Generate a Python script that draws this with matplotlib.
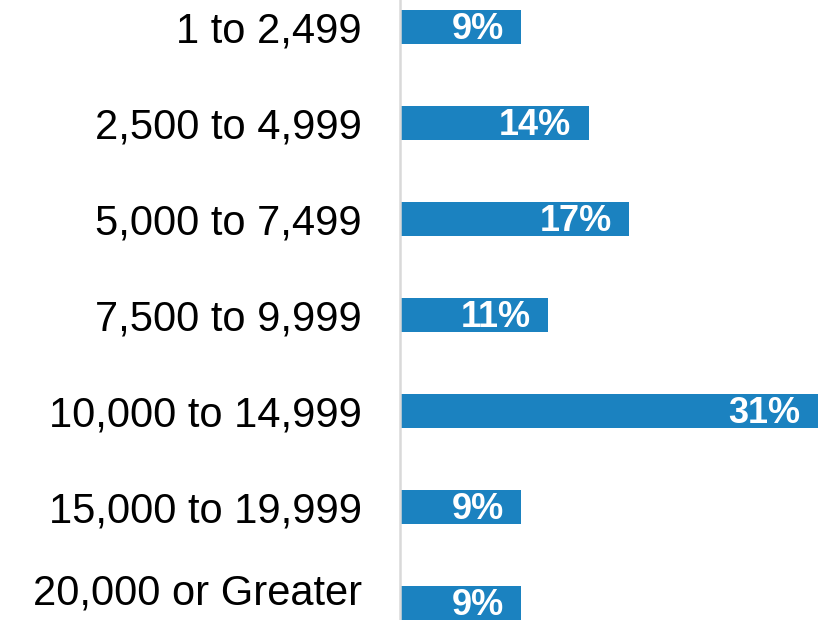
import matplotlib.pyplot as plt
from matplotlib.transforms import ScaledTranslation

plt.rcParams['font.family'] = ['Liberation Sans', 'DejaVu Sans']

# Data
categories = ['1 to 2,499', '2,500 to 4,999', '5,000 to 7,499', '7,500 to 9,999',
              '10,000 to 14,999', '15,000 to 19,999', '20,000 or Greater']
percents = [9, 14, 17, 11, 31, 9, 9]

bar_color = '#1B82C0'

fig = plt.figure(figsize=(8.36, 6.2), dpi=100)
ax = fig.add_axes([400 / 836, 0, 418 / 836, 1])

pos = list(range(len(categories)))
ax.barh(pos, percents, height=0.354, color=bar_color, zorder=2)

# value labels inside bar ends
for p, v in zip(pos, percents):
    ax.annotate(f'{v}%', xy=(v, p), xytext=(-12.5, -1.5), textcoords='offset points',
                ha='right', va='center', color='white', fontsize=26, fontweight='bold')

ax.set_xlim(0, 31)
ax.set_ylim(6 + 17 / 96, -27 / 96)
ax.set_yticks(pos)
ax.set_yticklabels(categories, fontsize=30)
ax.tick_params(axis='y', length=0, pad=27.5)
ax.set_xticks([])

# bottom label sits a bit higher so it stays inside the picture
last = ax.get_yticklabels()[-1]
last.set_transform(last.get_transform() + ScaledTranslation(0, 0.14, fig.dpi_scale_trans))

for s in ['top', 'right', 'bottom']:
    ax.spines[s].set_visible(False)
ax.spines['left'].set_color('#D9D9D9')
ax.spines['left'].set_linewidth(1.8)

fig.savefig('out.png', dpi=100)
